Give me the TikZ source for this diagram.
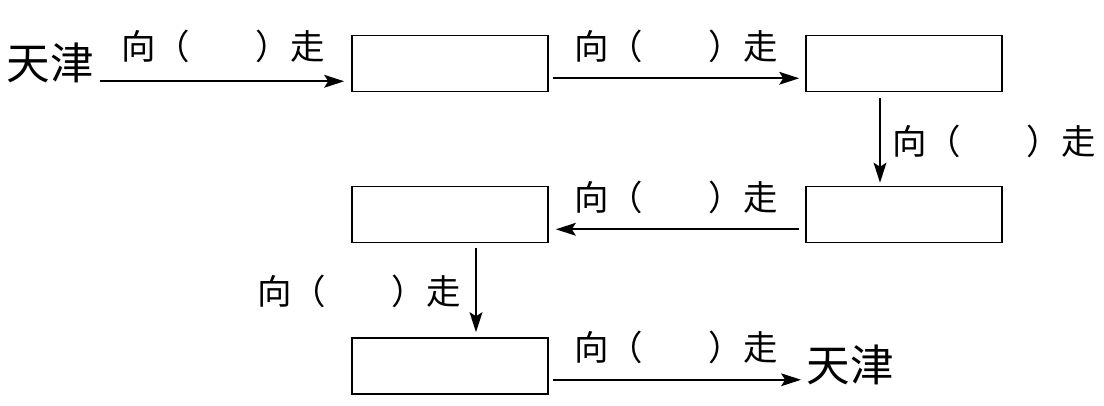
\documentclass[tikz,border=0pt]{standalone}
\usepackage{fontspec}
\setmainfont{Noto Sans CJK SC}
\usetikzlibrary{arrows.meta,positioning,calc}
\newcommand{\dirlabel}{向（\hspace{1.9em}）走}

\begin{document}
\begin{tikzpicture}[x=0.025cm, y=-0.025cm,
  stopbox/.style={draw, line width=1.1pt, minimum width=4.9cm, minimum height=1.4cm, inner sep=0pt},
  city/.style={inner sep=0pt, font=\fontsize{31}{36}\selectfont},
  dir/.style={inner sep=0pt, font=\fontsize{24.5}{28}\selectfont},
  walk/.style={line width=1.25pt, -{Stealth[length=0.5cm, width=0.32cm, inset=0.1cm]}}]
  \useasboundingbox (0,0) rectangle (1104,406);
  % stops on the way
  \node[stopbox] (b1) at (450,63.5) {};
  \node[stopbox] (b2) at (904,63.5) {};
  \node[stopbox] (b3) at (904,214.5) {};
  \node[stopbox] (b4) at (450,214.5) {};
  \node[stopbox] (b5) at (450,366) {};
  \node[city] (start) at (50,63) {天津};
  \node[city] (end) at (850,365) {天津};
  % legs of the route
  \draw[walk] ($(start.east |- b1.south)+(6,-11)$) -- ($(b1.south west)+(-7,-11)$);
  \draw[walk] ($(b1.south east)+(4,-14)$) -- ($(b2.south west)+(-6,-14)$);
  \draw[walk] ($(b2.south)+(-24,6)$) -- ($(b3.north)+(-24,-3)$);
  \draw[walk] ($(b3.south west)+(-6,-14)$) -- ($(b4.south east)+(7,-14)$);
  \draw[walk] ($(b4.south)+(26,5)$) -- ($(b5.north)+(26,-5)$);
  \draw[walk] ($(b5.south east)+(4,-15)$) -- ($(end.west |- b5.south)+(-5,-15)$);
  % directions to fill in
  \node[dir] (l1) at (223,46) {\dirlabel};
  \node[dir] (l2) at (676,46) {\dirlabel};
  \node[dir] (l3) at (994,141) {\dirlabel};
  \node[dir] (l4) at (676,197) {\dirlabel};
  \node[dir] (l5) at (359,291) {\dirlabel};
  \node[dir] (l6) at (676,347) {\dirlabel};
\end{tikzpicture}
\end{document}
